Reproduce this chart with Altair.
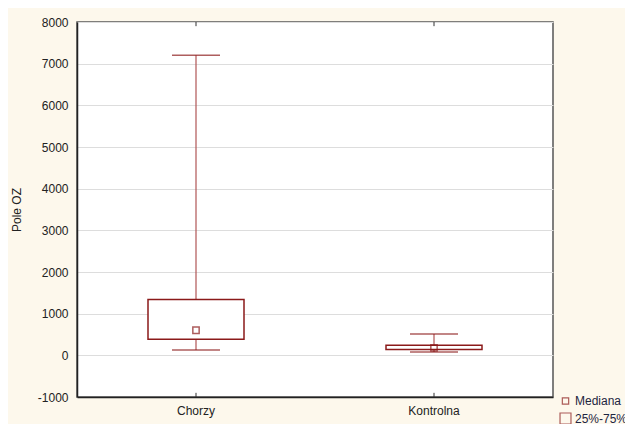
import altair as alt
import pandas as pd

groups = ["Chorzy", "Kontrolna"]
mins = [126, 79]
q1 = [388, 143]
medians = [602, 181]
q3 = [1340, 245]
maxs = [7200, 514]

legend_labels = ["Mediana", "25%-75%"]
y_ticks = [-1000, 0, 1000, 2000, 3000, 4000, 5000, 6000, 7000, 8000]

df = pd.DataFrame({"group": groups, "min": mins, "q1": q1, "median": medians,
                   "q3": q3, "max": maxs, "label": ["Mediana", "Mediana"]})

RED = "#8B1A1A"
FONT = "Liberation Sans"

xenc = alt.X("group:N", sort=groups, title=None,
             scale=alt.Scale(domain=groups, paddingInner=0, paddingOuter=0),
             axis=alt.Axis(labelAngle=0, labelFontSize=12, labelColor="#222",
                           labelFont=FONT, labelPadding=8, ticks=False,
                           domainColor="#222", domainWidth=1.5))
yscale = alt.Scale(domain=[-1000, 8000], nice=False, zero=False)
yaxis = alt.Axis(values=y_ticks, labelExpr="'' + datum.value", title="Pole OZ",
                 titleFontSize=12, titleFont=FONT, titleFontWeight="normal",
                 titleColor="#222", titlePadding=14, labelFontSize=12,
                 labelFont=FONT, labelColor="#222", labelPadding=9, ticks=False,
                 gridColor="#DDDDDD", gridWidth=1, domainColor="#222",
                 domainWidth=1.5)

base = alt.Chart(df)

whisk_up = base.mark_rule(color="#B05555", strokeWidth=1.2).encode(
    x=xenc, y=alt.Y("q3:Q", scale=yscale, axis=yaxis), y2="max:Q")
whisk_dn = base.mark_rule(color="#B05555", strokeWidth=1.2).encode(
    x=xenc, y=alt.Y("min:Q", scale=yscale, axis=yaxis), y2="q1:Q")
cap_top = base.mark_tick(color=RED, size=48, thickness=1.5, orient="horizontal").encode(
    x=xenc, y=alt.Y("max:Q", scale=yscale, axis=yaxis))
cap_bot = base.mark_tick(color=RED, size=48, thickness=1.5, orient="horizontal").encode(
    x=xenc, y=alt.Y("min:Q", scale=yscale, axis=yaxis))
box = base.mark_bar(size=96, fill="white", stroke=RED, strokeWidth=1.5).encode(
    x=xenc, y=alt.Y("q1:Q", scale=yscale, axis=yaxis), y2="q3:Q")
med = base.mark_point(shape="square", filled=False, strokeWidth=1.5).encode(
    x=xenc, y=alt.Y("median:Q", scale=yscale, axis=yaxis),
    stroke=alt.Stroke("label:O", scale=alt.Scale(domain=legend_labels, range=[RED, RED]),
                      legend=alt.Legend(title=None, orient="none", legendX=482,
                                        legendY=373, symbolType="square",
                                        symbolStrokeWidth=1.2, labelFontSize=12,
                                        labelFont=FONT, labelColor="#1E2540",
                                        rowPadding=3, labelOffset=3)),
    size=alt.Size("label:O", scale=alt.Scale(domain=legend_labels, range=[40, 120]),
                  legend=alt.Legend(title=None, orient="none", legendX=482,
                                    legendY=373)))

tdf = pd.DataFrame({"group": groups})
tick_b = alt.Chart(tdf).mark_rule(color="#333", strokeWidth=1).encode(
    x=xenc, y=alt.datum(-1000, scale=yscale), y2=alt.datum(-900))
tick_t = alt.Chart(tdf).mark_rule(color="#333", strokeWidth=1).encode(
    x=xenc, y=alt.datum(8000, scale=yscale), y2=alt.datum(7900))

chart = alt.layer(whisk_up, whisk_dn, cap_top, cap_bot, box, med, tick_b, tick_t).properties(
    width=476, height=375,
    autosize=alt.AutoSizeParams(type="none"),
    padding={"left": 69, "top": 14, "right": 72, "bottom": 27},
    background="#FDF8EC",
).configure_view(fill="white", stroke="#555", strokeWidth=1.5)

chart.save("out.html", embed_options={"renderer": "svg", "actions": False})
